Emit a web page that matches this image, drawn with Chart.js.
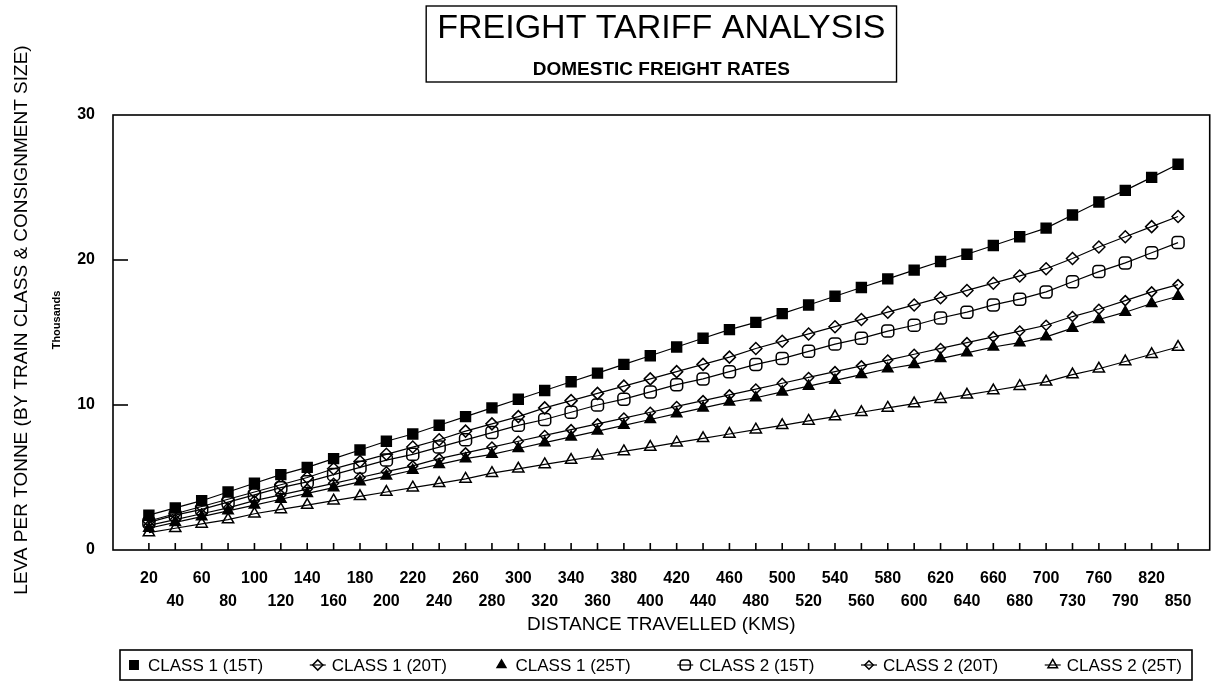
<!DOCTYPE html>
<html>
<head>
<meta charset="utf-8">
<script src="https://cdn.jsdelivr.net/npm/chart.js@4.4.1/dist/chart.umd.min.js"></script>
<style>
html,body{margin:0;padding:0;background:#fff;}
#wrap{width:1222px;height:697px;position:relative;background:#fff;}
</style>
</head>
<body>
<div id="wrap"><canvas id="c" width="1222" height="697"></canvas></div>
<script>
// ---- data (thousands of leva per tonne) ----
const distances = [20,40,60,80,100,120,140,160,180,200,220,240,260,280,300,320,340,360,380,400,420,440,460,480,500,520,540,560,580,600,620,640,660,680,700,730,760,790,820,850];

const class1_15T = [2.4,2.9,3.4,4.0,4.6,5.2,5.7,6.3,6.9,7.5,8.0,8.6,9.2,9.8,10.4,11.0,11.6,12.2,12.8,13.4,14.0,14.6,15.2,15.7,16.3,16.9,17.5,18.1,18.7,19.3,19.9,20.4,21.0,21.6,22.2,23.1,24.0,24.8,25.7,26.6];
const class1_20T = [2.0,2.5,3.0,3.5,4.0,4.5,5.0,5.6,6.1,6.6,7.1,7.6,8.2,8.7,9.2,9.8,10.3,10.8,11.3,11.8,12.3,12.8,13.3,13.9,14.4,14.9,15.4,15.9,16.4,16.9,17.4,17.9,18.4,18.9,19.4,20.1,20.9,21.6,22.3,23.0];
const class1_25T = [1.5,1.9,2.3,2.7,3.1,3.5,3.9,4.3,4.7,5.1,5.5,5.9,6.3,6.6,7.0,7.4,7.8,8.2,8.6,9.0,9.4,9.8,10.2,10.5,10.9,11.3,11.7,12.1,12.5,12.8,13.2,13.6,14.0,14.3,14.7,15.3,15.9,16.4,17.0,17.5];
const class2_15T = [1.9,2.4,2.8,3.3,3.8,4.3,4.7,5.2,5.7,6.2,6.6,7.1,7.6,8.1,8.6,9.0,9.5,10.0,10.4,10.9,11.4,11.8,12.3,12.8,13.2,13.7,14.2,14.6,15.1,15.5,16.0,16.4,16.9,17.3,17.8,18.5,19.2,19.8,20.5,21.2];
const class2_20T = [1.7,2.1,2.5,2.9,3.4,3.8,4.2,4.6,5.0,5.4,5.8,6.3,6.7,7.1,7.5,7.9,8.3,8.7,9.1,9.5,9.9,10.3,10.7,11.1,11.5,11.9,12.3,12.7,13.1,13.5,13.9,14.3,14.7,15.1,15.5,16.1,16.6,17.2,17.8,18.3];
const class2_25T = [1.2,1.5,1.8,2.1,2.5,2.8,3.1,3.4,3.7,4.0,4.3,4.6,4.9,5.3,5.6,5.9,6.2,6.5,6.8,7.1,7.4,7.7,8.0,8.3,8.6,8.9,9.2,9.5,9.8,10.1,10.4,10.7,11.0,11.3,11.6,12.1,12.5,13.0,13.5,14.0];

const seriesNames = ['CLASS 1 (15T)','CLASS 1 (20T)','CLASS 1 (25T)','CLASS 2 (15T)','CLASS 2 (20T)','CLASS 2 (25T)'];
const yTicks = [0,10,20,30];

const chartTitle = 'FREIGHT TARIFF ANALYSIS';
const chartSubtitle = 'DOMESTIC FREIGHT RATES';
const yTitle = 'LEVA PER TONNE (BY TRAIN CLASS & CONSIGNMENT SIZE)';
const yUnit = 'Thousands';
const xTitle = 'DISTANCE TRAVELLED (KMS)';

const FONT = '"Liberation Sans", Arial, Helvetica, sans-serif';
const HOLLOW = 'rgba(0,0,0,0)';

// marker styles per series
const markerStyles = [
  {pointStyle:'rect',        radius:7,   fill:'#000'},
  {pointStyle:'rectRot',     radius:6,   fill:HOLLOW},
  {pointStyle:'triangle',    radius:6,   fill:'#000'},
  {pointStyle:'rectRounded', radius:7,   fill:HOLLOW},
  {pointStyle:'rectRot',     radius:5,   fill:HOLLOW},
  {pointStyle:'triangle',    radius:6.5, fill:HOLLOW}
];
const allSeries = [class1_15T, class1_20T, class1_25T, class2_15T, class2_20T, class2_25T];

const datasets = allSeries.map((vals, k) => ({
  label: seriesNames[k],
  data: vals.map((v, i) => ({x: i, y: v})),
  borderColor: '#000',
  borderWidth: 1.2,
  backgroundColor: markerStyles[k].fill,
  pointBackgroundColor: markerStyles[k].fill,
  pointBorderColor: '#000',
  pointBorderWidth: 1.5,
  pointRadius: markerStyles[k].radius,
  pointStyle: markerStyles[k].pointStyle,
  fill: false,
  tension: 0
}));

// legend box geometry (decoration only)
const LEGEND = {left: 120, right: 1192, top: 650, bottom: 680, font: 17};

const decorPlugin = {
  id: 'decor',
  afterDraw(chart) {
    const {ctx, chartArea: ca, scales: {x, y}} = chart;
    ctx.save();
    ctx.strokeStyle = '#000';
    ctx.fillStyle = '#000';
    // plot frame
    ctx.lineWidth = 1.6;
    ctx.strokeRect(ca.left, ca.top, ca.right - ca.left, ca.bottom - ca.top);
    // inward x tick marks
    distances.forEach((d, i) => {
      const px = x.getPixelForValue(i);
      ctx.beginPath(); ctx.moveTo(px, ca.bottom); ctx.lineTo(px, ca.bottom - 7); ctx.stroke();
    });
    // inward y tick marks
    yTicks.forEach(v => {
      if (v <= y.min || v >= y.max) return;
      const py = y.getPixelForValue(v);
      ctx.beginPath(); ctx.moveTo(ca.left, py); ctx.lineTo(ca.left + 15, py); ctx.stroke();
    });
    // y axis titles (rotated)
    ctx.save();
    ctx.translate(22, 320);
    ctx.rotate(-Math.PI / 2);
    ctx.textAlign = 'center';
    ctx.textBaseline = 'middle';
    ctx.font = '19px ' + FONT;
    ctx.fillText(yTitle, 0, 0);
    ctx.font = 'bold 11px ' + FONT;
    ctx.fillText(yUnit, 0, 35);
    ctx.restore();
    // title box
    ctx.font = '34px ' + FONT;
    const tw = ctx.measureText(chartTitle).width;
    const cx = (ca.left + ca.right) / 2;
    ctx.lineWidth = 1.4;
    ctx.strokeRect(cx - tw / 2 - 11, 6, tw + 22, 76);
    // legend
    ctx.lineWidth = 1.6;
    ctx.strokeRect(LEGEND.left, LEGEND.top, LEGEND.right - LEGEND.left, LEGEND.bottom - LEGEND.top);
    ctx.font = LEGEND.font + 'px ' + FONT;
    const markW = 22;
    const widths = seriesNames.map(n => markW + ctx.measureText(n).width);
    const inner = (LEGEND.right - 10) - (LEGEND.left + 6);
    const gap = (inner - widths.reduce((a, b) => a + b, 0)) / (seriesNames.length - 1);
    const cy = (LEGEND.top + LEGEND.bottom) / 2;
    let xx = LEGEND.left + 6;
    seriesNames.forEach((name, k) => {
      const ms = markerStyles[k];
      const mx = xx + 8;
      if (ms.fill === HOLLOW) {
        ctx.lineWidth = 1.2;
        ctx.beginPath(); ctx.moveTo(mx - 8, cy); ctx.lineTo(mx + 8, cy); ctx.stroke();
      }
      ctx.fillStyle = ms.fill;
      ctx.strokeStyle = '#000';
      ctx.lineWidth = 1.5;
      Chart.helpers.drawPoint(ctx, {pointStyle: ms.pointStyle, radius: ms.radius * 0.85, rotation: 0, borderWidth: 1.5}, mx, cy);
      ctx.fillStyle = '#000';
      ctx.textAlign = 'left';
      ctx.textBaseline = 'middle';
      ctx.fillText(name, xx + markW, cy + 1);
      xx += widths[k] + gap;
    });
    ctx.restore();
  }
};

new Chart(document.getElementById('c'), {
  type: 'line',
  data: {datasets},
  options: {
    responsive: false,
    animation: false,
    devicePixelRatio: 1,
    layout: {padding: {top: 0, left: 0, right: 7, bottom: 60}},
    plugins: {
      tooltip: {enabled: false},
      legend: {display: false},
      title: {
        display: true, text: chartTitle, fullSize: false, color: '#000',
        font: {family: FONT, size: 34, weight: 'normal', lineHeight: 1.2},
        padding: {top: 8, bottom: 0}
      },
      subtitle: {
        display: true, text: chartSubtitle, fullSize: false, color: '#000',
        font: {family: FONT, size: 19, weight: 'bold', lineHeight: 1.2},
        padding: {top: 10, bottom: 33.4}
      }
    },
    scales: {
      x: {
        type: 'linear',
        min: -1.36, max: 40.2,
        grid: {display: false, drawTicks: false},
        border: {display: false},
        afterFit(s) { s.height = 87; },
        ticks: {
          stepSize: 1, autoSkip: false, includeBounds: false,
          maxRotation: 0, minRotation: 0, padding: 17.5, color: '#000',
          font: {family: FONT, size: 16, weight: 'bold', lineHeight: 1.44},
          callback(value) {
            const i = Math.round(value);
            if (Math.abs(value - i) > 1e-6 || i < 0 || i >= distances.length) return '';
            const lab = String(distances[i]);
            return i % 2 === 0 ? [lab, ''] : ['', lab];
          }
        },
        title: {
          display: true, text: xTitle, color: '#000',
          font: {family: FONT, size: 19, weight: 'normal', lineHeight: 1.2},
          padding: {top: 0, bottom: 1}
        }
      },
      y: {
        type: 'linear',
        min: 0, max: 30,
        grid: {display: false, drawTicks: false},
        border: {display: false},
        afterFit(s) { s.width = 113; },
        afterBuildTicks(s) { s.ticks = yTicks.map(v => ({value: v})); },
        ticks: {
          padding: 18, color: '#000',
          font: {family: FONT, size: 16, weight: 'bold'}
        }
      }
    }
  },
  plugins: [decorPlugin]
});
</script>
</body>
</html>
